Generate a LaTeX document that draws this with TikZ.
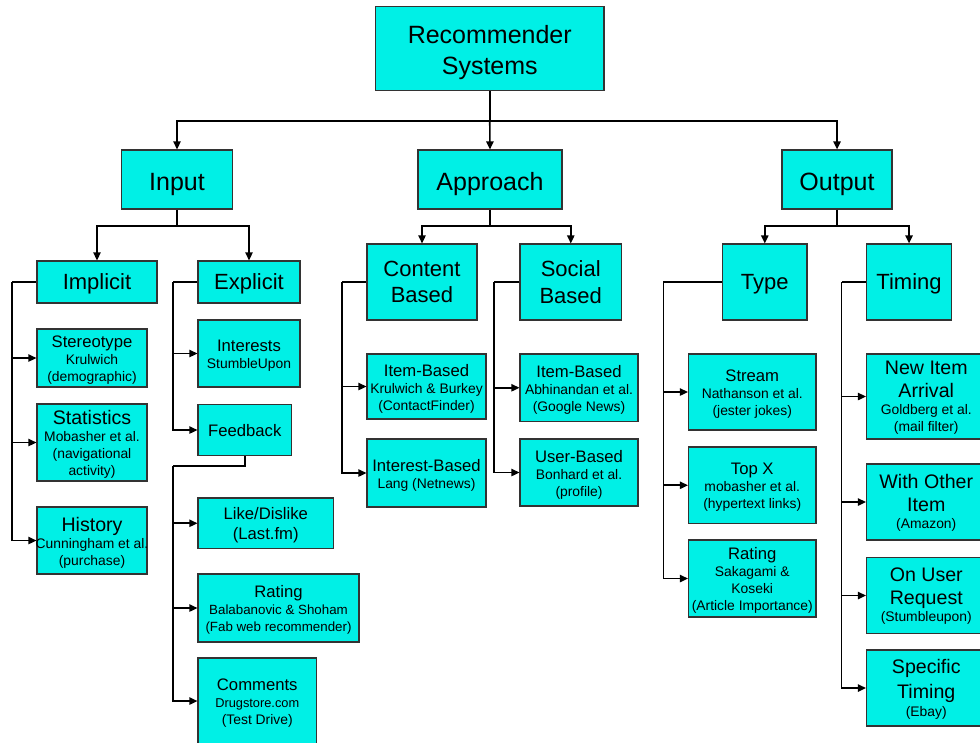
\documentclass[tikz,border=0pt]{standalone}
\usepackage{fontspec}
\setmainfont{Liberation Sans}
\usetikzlibrary{arrows.meta}
\definecolor{boxcyan}{RGB}{0,240,230}
\newcommand\fA{\fontsize{18.75}{23.25}\selectfont}
\newcommand\fB{\fontsize{16.5}{20}\selectfont}
\newcommand\fC{\fontsize{14.7}{17}\selectfont}
\newcommand\fD{\fontsize{12.5}{15}\selectfont}
\newcommand\fE{\fontsize{10.4}{12.8}\selectfont}
\newcommand\fF{\fontsize{10}{12.8}\selectfont}
% \bx[text shift px]{name}{x1}{y1}{x2}{y2}{text}
\newcommand\bx[7][2]{%
  \node[bxshape, minimum width={(#5-#3)*0.75pt}, minimum height={(#6-#4)*0.75pt}] (#2) at ({(#3+#5)/2},{(#4+#6)/2}) {};
  \node[bxtext] (#2-t) at ([yshift={-#1*0.75pt}]#2.center) {#7};}
% \bxF[text shift px]{name}{x1}{y1}{x2}{y2}{font}{text}
\newcommand\bxF[8][2]{%
  \node[bxshape, minimum width={(#5-#3)*0.75pt}, minimum height={(#6-#4)*0.75pt}] (#2) at ({(#3+#5)/2},{(#4+#6)/2}) {};
  \node[bxtext, font=#7] (#2-t) at ([yshift={-#1*0.75pt}]#2.center) {#8};}
\tikzset{
  bxshape/.style={draw=black!80, line width=0.9pt, fill=boxcyan, inner sep=0pt},
  bxtext/.style={inner sep=0pt, align=center, font=\fE},
  conn/.style={line width=1.2pt, black},
  arr/.style={conn, -{Triangle[length=6pt,width=5.5pt]}}
}
\begin{document}
\begin{tikzpicture}[x=0.75pt,y=-0.75pt]
\useasboundingbox (0,0) rectangle (980,742);
\clip (0,0) rectangle (980,742);
% level 0/1
\bxF[4]{root}{375.5}{6.5}{604}{90.5}{\fA}{Recommender\\Systems}
\bxF[5]{input}{121.5}{150}{232.5}{209}{\fA}{Input}
\bxF[5]{approach}{418}{150}{562}{209}{\fA}{Approach}
\bxF[5]{output}{782}{150}{892}{209}{\fA}{Output}
% level 2
\bxF[2.3]{implicit}{37}{261}{157}{303}{\fB}{Implicit}
\bxF[2.3]{explicit}{198}{261}{300}{303}{\fB}{Explicit}
\bxF[0]{content}{367}{244}{477}{320}{\fB}{Content\\Based}
\bxF[0]{social}{520}{244}{621.5}{320}{\fB}{Social\\Based}
\bxF[2.3]{type}{722.5}{244}{807}{320}{\fB}{Type}
\bxF[2.3]{timing}{866.5}{244}{951.5}{320}{\fB}{Timing}
% leaves: input
\bx{stereo}{37}{329}{147}{387}{{\fD Stereotype}\\Krulwich\\(demographic)}
\bx{stats}{37}{404}{147}{481}{{\fC Statistics}\\Mobasher et al.\\(navigational\\activity)}
\bx{hist}{37}{507}{147}{574}{{\fC History}\\Cunningham et al.\\(purchase)}
\bx{interests}{198}{320}{300}{387}{{\fD Interests}\\StumbleUpon}
\bxF[1]{feedback}{198}{404.5}{291.5}{455.5}{\fD}{Feedback}
\bxF{like}{198}{498}{333.5}{548.5}{\fD}{Like/Dislike\\[0.5pt](Last.fm)}
\bx{ratingf}{198}{574}{359}{642}{{\fD Rating}\\{\fF Balabanovic \& Shoham}\\{\fF (Fab web recommender)}}
\bx{comments}{198}{658}{316.5}{744}{{\fD Comments}\\{\fontsize{9.6}{12}\selectfont Drugstore.com}\\(Test Drive)}
% leaves: approach
\bx{citem}{367}{354}{486}{419}{{\fD Item-Based}\\Krulwich \& Burkey\\(ContactFinder)}
\bx{cinterest}{367}{439}{486}{507}{{\fD Interest-Based}\\Lang (Netnews)}
\bx{sitem}{520}{354}{638}{421.5}{{\fD Item-Based}\\Abhinandan et al.\\(Google News)}
\bx{suser}{520}{439}{638}{506}{{\fD User-Based}\\Bonhard et al.\\(profile)}
% leaves: output
\bx{stream}{688.5}{354}{816}{430}{{\fD Stream}\\Nathanson et al.\\(jester jokes)}
\bx{topx}{688.5}{447}{816}{523.5}{{\fD Top X}\\mobasher et al.\\(hypertext links)}
\bx{ratingt}{688.5}{540}{816}{617}{{\fD Rating}\\Sakagami \&\\Koseki\\(Article Importance)}
\bx[1.5]{newitem}{866.5}{354}{986}{439}{{\fC New Item}\\[4.5pt]{\fC Arrival}\\Goldberg et al.\\(mail filter)}
\bx[1]{withother}{866.5}{464}{986}{540}{{\fC With Other}\\[4.5pt]{\fC Item}\\(Amazon)}
\bx[1]{onuser}{866.5}{557.5}{986}{633.5}{{\fC On User}\\[4.5pt]{\fC Request}\\(Stumbleupon)}
\bx[1]{specific}{866.5}{650}{986}{726}{{\fC Specific}\\[4.5pt]{\fC Timing}\\(Ebay)}
% junction coordinates
\coordinate (j0) at (489.75,121);
\coordinate (ja) at (177,226);
\coordinate (jb) at (490,226);
\coordinate (jc) at (837,226);
\coordinate (ki) at (12,282);
\coordinate (ke) at (172.7,282);
\coordinate (kf) at (172.7,466);
\coordinate (kc) at (342,282);
\coordinate (ks) at (494,282);
\coordinate (kt) at (663.3,282);
\coordinate (ktm) at (841.5,282);
% top connectors
\draw[conn] (root.south) -- (j0);
\draw[arr] (j0) -| (input.north);
\draw[arr] (j0) -- (approach.north);
\draw[arr] (j0) -| (output.north);
\draw[conn] (input.south) -- (ja);
\draw[arr] (ja) -| (implicit.north);
\draw[arr] (ja) -| (explicit.north);
\draw[conn] (approach.south) -- (jb);
\draw[arr] (jb) -| (content.north);
\draw[arr] (jb) -| (social.north);
\draw[conn] (output.south) -- (jc);
\draw[arr] (jc) -| (type.north);
\draw[arr] (jc) -| (timing.north);
% side connectors
\draw[conn] (implicit.west) -- (ki);
\draw[arr] (ki) |- (stereo.west);
\draw[arr] (ki) |- (stats.west);
\draw[arr] (ki) |- (hist.west);
\draw[conn] (explicit.west) -- (ke);
\draw[arr] (ke) |- (interests.west);
\draw[arr] (ke) |- (feedback.west);
\draw[conn] (feedback.south) |- (kf);
\draw[arr] (kf) |- (like.west);
\draw[arr] (kf) |- (ratingf.west);
\draw[arr] (kf) |- (comments.west);
\draw[conn] (content.west) -- (kc);
\draw[arr] (kc) |- (citem.west);
\draw[arr] (kc) |- (cinterest.west);
\draw[conn] (social.west) -- (ks);
\draw[arr] (ks) |- (sitem.west);
\draw[arr] (ks) |- (suser.west);
\draw[conn] (type.west) -- (kt);
\draw[arr] (kt) |- (stream.west);
\draw[arr] (kt) |- (topx.west);
\draw[arr] (kt) |- (ratingt.west);
\draw[conn] (timing.west) -- (ktm);
\draw[arr] (ktm) |- (newitem.west);
\draw[arr] (ktm) |- (withother.west);
\draw[arr] (ktm) |- (onuser.west);
\draw[arr] (ktm) |- (specific.west);
\end{tikzpicture}
\end{document}
